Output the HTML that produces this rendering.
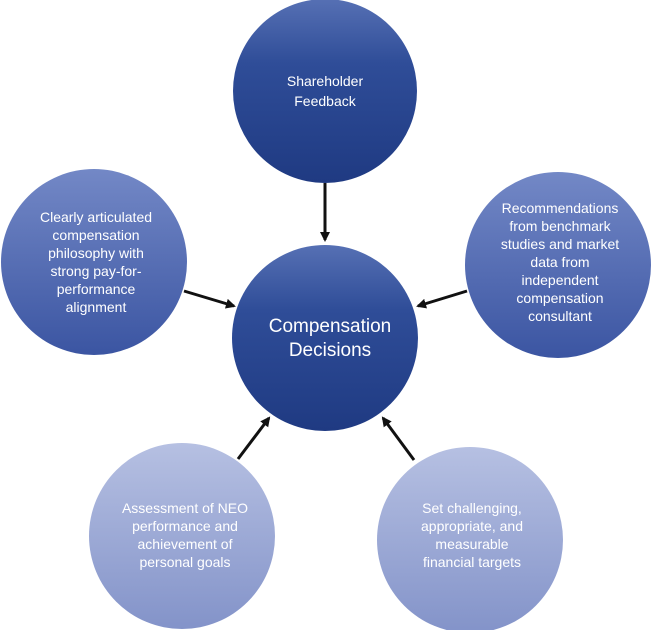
<!DOCTYPE html>
<html><head><style>body{margin:0;background:#fff}svg{display:block}text{font-family:"Liberation Sans",Arial,sans-serif;fill:#fff;text-anchor:middle}</style></head><body>
<svg width="652" height="630" viewBox="0 0 652 630">
<defs>
<linearGradient id="d" x1="0" y1="0" x2="0" y2="1"><stop offset="0" stop-color="#5670b4"/><stop offset="0.35" stop-color="#2f4d98"/><stop offset="1" stop-color="#1f3a82"/></linearGradient>
<linearGradient id="m" x1="0" y1="0" x2="0" y2="1"><stop offset="0" stop-color="#7388c6"/><stop offset="1" stop-color="#3b55a2"/></linearGradient>
<linearGradient id="l" x1="0" y1="0" x2="0" y2="1"><stop offset="0" stop-color="#b6c0e2"/><stop offset="1" stop-color="#8393c9"/></linearGradient>
<marker id="a" markerWidth="10" markerHeight="10" refX="8" refY="5" orient="auto" markerUnits="userSpaceOnUse"><path d="M0,0 L10,5 L0,10 z" fill="#111"/></marker>
</defs>
<circle cx="325" cy="91" r="92" fill="url(#d)"/>
<circle cx="325" cy="338" r="93" fill="url(#d)"/>
<circle cx="94" cy="262" r="93" fill="url(#m)"/>
<circle cx="558" cy="265" r="93" fill="url(#m)"/>
<circle cx="182" cy="536" r="93" fill="url(#l)"/>
<circle cx="470" cy="540" r="93" fill="url(#l)"/>
<g stroke="#111" stroke-width="3" marker-end="url(#a)">
<line x1="325" y1="183" x2="325" y2="240"/>
<line x1="184" y1="291" x2="234" y2="306"/>
<line x1="467" y1="291" x2="418" y2="306"/>
<line x1="238" y1="459" x2="269" y2="418"/>
<line x1="414" y1="460" x2="383" y2="418"/>
</g>
<g font-size="14">
<text x="325" y="86">Shareholder</text><text x="325" y="106">Feedback</text>
<text x="96" y="222">Clearly articulated</text><text x="96" y="240">compensation</text><text x="96" y="258">philosophy with</text><text x="96" y="276">strong pay-for-</text><text x="96" y="294">performance</text><text x="96" y="312">alignment</text>
<text x="560" y="213">Recommendations</text><text x="560" y="231">from benchmark</text><text x="560" y="249">studies and market</text><text x="560" y="267">data from</text><text x="560" y="285">independent</text><text x="560" y="303">compensation</text><text x="560" y="321">consultant</text>
<text x="185" y="513">Assessment of NEO</text><text x="185" y="531">performance and</text><text x="185" y="549">achievement of</text><text x="185" y="567">personal goals</text>
<text x="472" y="513">Set challenging,</text><text x="472" y="531">appropriate, and</text><text x="472" y="549">measurable</text><text x="472" y="567">financial targets</text>
</g>
<text x="330" y="332" font-size="19">Compensation</text><text x="330" y="356" font-size="19">Decisions</text>
</svg>
</body></html>
